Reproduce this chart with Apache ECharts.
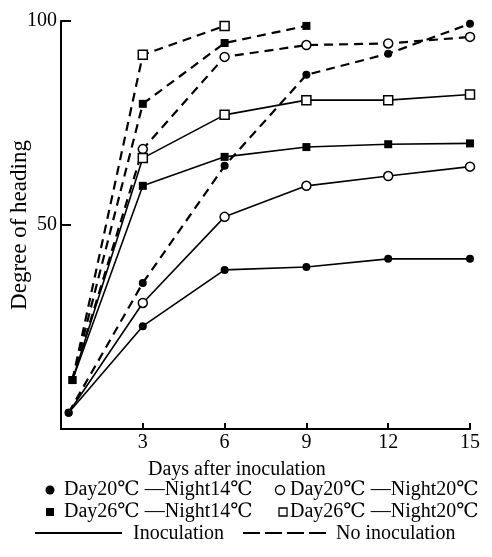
<!DOCTYPE html>
<html>
<head>
<meta charset="utf-8">
<script src="https://cdn.jsdelivr.net/npm/echarts@6/dist/echarts.min.js"></script>
<style>
  html, body { margin: 0; padding: 0; background: #fff; }
  #chart { width: 492px; height: 557px; }
</style>
</head>
<body>
<div id="chart"></div>
<script>
// days: the first reading sits just after day 0
const circleDays = [0.28, 3, 6, 9, 12, 15];
const squareDays = [0.42, 3, 6, 9, 12, 15];

// Inoculation (solid lines)
const d20n14Inoc = [4, 25.2, 39, 39.7, 41.7, 41.7];
const d20n20Inoc = [4, 30.9, 52, 59.6, 62, 64.3];
const d26n14Inoc = [12, 59.6, 66.7, 69.1, 69.8, 70];
const d26n20Inoc = [12, 66.4, 77, 80.6, 80.6, 82];

// No inoculation (dashed lines)
const d20n14None = [4, 35.8, 64.5, 86.8, 92, 99.3];
const d20n20None = [12, 68.6, 91.2, 94.1, 94.5, 96.1];
const d26n14None = [12, 79.7, 94.6, 98.8];
const d26n20None = [12, 91.7, 98.8];

const yTicks = [0, 50, 100];
const xTicks = [0, 3, 6, 9, 12, 15];

const FONT = '"Liberation Serif", "Times New Roman", "DejaVu Serif", serif';

// open markers are hidden at the shared starting point (filled ones sit on top there)
const pairs = (xs, ys, hideFirst) =>
  ys.map((y, i) => (i === 0 && hideFirst ? { value: [xs[i], y], symbol: 'none' } : [xs[i], y]));

// marker look for each condition
const markers = {
  filledCircle: { symbol: 'circle', symbolSize: 8, itemStyle: { color: '#000' } },
  openCircle: { symbol: 'circle', symbolSize: 9, itemStyle: { color: '#fff', borderColor: '#000', borderWidth: 1.5 } },
  filledSquare: { symbol: 'rect', symbolSize: 8, itemStyle: { color: '#000' } },
  openSquare: { symbol: 'rect', symbolSize: 9, itemStyle: { color: '#fff', borderColor: '#000', borderWidth: 1.5 } },
};

function makeSeries(name, xs, ys, marker, dashed) {
  return {
    name,
    type: 'line',
    data: pairs(xs, ys, marker.startsWith('open')),
    ...markers[marker],
    showAllSymbol: true,
    lineStyle: {
      color: '#000',
      width: dashed ? 2.2 : 1.6,
      type: dashed ? [9, 6] : 'solid',
    },
    z: dashed ? 2 : 3,
  };
}

const series = [
  makeSeries('Day20℃ —Night14℃ no inoculation', circleDays, d20n14None, 'filledCircle', true),
  makeSeries('Day20℃ —Night20℃ no inoculation', squareDays, d20n20None, 'openCircle', true),
  makeSeries('Day26℃ —Night14℃ no inoculation', squareDays, d26n14None, 'filledSquare', true),
  makeSeries('Day26℃ —Night20℃ no inoculation', squareDays, d26n20None, 'openSquare', true),
  makeSeries('Day20℃ —Night14℃ inoculation', circleDays, d20n14Inoc, 'filledCircle', false),
  makeSeries('Day20℃ —Night20℃ inoculation', circleDays, d20n20Inoc, 'openCircle', false),
  makeSeries('Day26℃ —Night20℃ inoculation', squareDays, d26n20Inoc, 'openSquare', false),
  makeSeries('Day26℃ —Night14℃ inoculation', squareDays, d26n14Inoc, 'filledSquare', false),
];

const textStyle = { fill: '#000', font: '20px ' + FONT, verticalAlign: 'middle' };

// hand-drawn legend under the axis
const graphic = [
  { type: 'text', x: 148, y: 470, style: { ...textStyle, text: 'Days after inoculation' } },

  { type: 'circle', shape: { cx: 50, cy: 490, r: 4.5 }, style: { fill: '#000' } },
  { type: 'text', x: 64, y: 490, style: { ...textStyle, text: 'Day20℃ —Night14℃' } },
  { type: 'circle', shape: { cx: 280, cy: 490, r: 4.5 }, style: { fill: '#fff', stroke: '#000', lineWidth: 1.3 } },
  { type: 'text', x: 290, y: 490, style: { ...textStyle, text: 'Day20℃ —Night20℃' } },

  { type: 'rect', shape: { x: 46, y: 508, width: 8, height: 8 }, style: { fill: '#000' } },
  { type: 'text', x: 64, y: 512, style: { ...textStyle, text: 'Day26℃ —Night14℃' } },
  { type: 'rect', shape: { x: 279, y: 508, width: 8, height: 8 }, style: { fill: '#fff', stroke: '#000', lineWidth: 1.3 } },
  { type: 'text', x: 290, y: 512, style: { ...textStyle, text: 'Day26℃ —Night20℃' } },

  { type: 'line', shape: { x1: 35, y1: 533, x2: 122, y2: 533 }, style: { stroke: '#000', lineWidth: 1.8 } },
  { type: 'text', x: 133, y: 534, style: { ...textStyle, text: 'Inoculation' } },
  { type: 'line', shape: { x1: 243, y1: 533, x2: 328, y2: 533 }, style: { stroke: '#000', lineWidth: 2, lineDash: [17, 5] } },
  { type: 'text', x: 336, y: 534, style: { ...textStyle, text: 'No inoculation' } },
];

const chart = echarts.init(document.getElementById('chart'));
chart.setOption({
  animation: false,
  backgroundColor: '#fff',
  grid: { left: 61, right: 22, top: 21, bottom: 128, containLabel: false, outerBoundsMode: 'none' },
  xAxis: {
    type: 'value',
    min: xTicks[0],
    max: xTicks[xTicks.length - 1],
    interval: 3,
    axisLine: { lineStyle: { color: '#000', width: 2 } },
    axisTick: { inside: true, length: 6, lineStyle: { color: '#000', width: 2 } },
    axisLabel: {
      color: '#000',
      fontFamily: FONT,
      fontSize: 20,
      margin: 4,
      formatter: (v) => (v === 0 ? '' : String(v)),
    },
    splitLine: { show: false },
  },
  yAxis: {
    type: 'value',
    min: yTicks[0],
    max: yTicks[yTicks.length - 1],
    interval: 50,
    name: 'Degree of heading',
    nameLocation: 'middle',
    nameGap: 30,
    nameMoveOverlap: false,
    nameTextStyle: { color: '#000', fontFamily: FONT, fontSize: 23 },
    axisLine: { lineStyle: { color: '#000', width: 2 } },
    axisTick: { inside: true, length: 10, lineStyle: { color: '#000', width: 2 } },
    axisLabel: {
      color: '#000',
      fontFamily: FONT,
      fontSize: 20,
      margin: 4,
      formatter: (v) => (v === 0 ? '' : String(v)),
    },
    splitLine: { show: false },
  },
  graphic,
  series,
});
</script>
</body>
</html>
